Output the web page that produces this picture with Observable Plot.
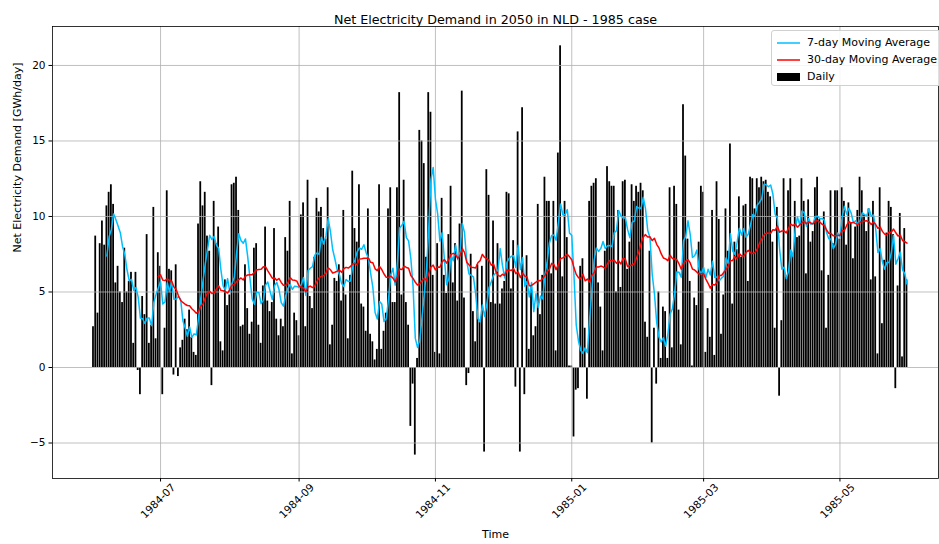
<!DOCTYPE html>
<html>
<head>
<meta charset="utf-8">
<script src="https://cdn.jsdelivr.net/npm/d3@7"></script>
<script src="https://cdn.jsdelivr.net/npm/@observablehq/plot@0.6"></script>
<style>
  body { margin: 0; background: white; font-family: "DejaVu Sans", sans-serif; }
  #wrap { position: relative; width: 939px; height: 544px; overflow: hidden; }
  #legend { position: absolute; left: 771px; top: 30px; width: 175px; height: 56px;
    box-sizing: border-box; border: 1px solid #d0d0d0; border-radius: 3px;
    background: rgba(255,255,255,0.85); font-size: 11px; color: black; padding-top: 3px; }
  .row { display: flex; align-items: center; height: 17px; }
  .row svg { margin-left: 5px; margin-right: 7px; }
</style>
</head>
<body>
<div id="wrap">
  <div id="chart"></div>
  <div id="legend"></div>
</div>
<script>
const titleText = "Net Electricity Demand in 2050 in NLD - 1985 case";
const yLabel = "Net Electricity Demand [GWh/day]";
const xLabel = "Time";
const startDate = "1984-06-01";
const xTickLabels = ["1984-07", "1984-09", "1984-11", "1985-01", "1985-03", "1985-05"];
const yTicks = [-5, 0, 5, 10, 15, 20];
const legendLabels = ["7-day Moving Average", "30-day Moving Average", "Daily"];
const seriesColors = ["deepskyblue", "red", "black"];

// Daily net demand, GWh/day, 1984-06-01 .. 1985-05-31
const dailyValues = [
  // Jun 1984
  2.7, 8.7, 3.6, 8.2, 9.7, 8.1, 10.7, 11.6, 12.1, 10.8, 5.6, 6.7, 5.0, 4.3, 7.9, 5.0, 5.7, 6.3, 1.6, 6.3,
  -0.2, -1.8, 4.7, 3.5, 8.8, 1.6, 2.8, 10.6, 1.9, 7.6,
  // Jul
  6.7, -1.8, 2.6, 11.7, 6.5, 6.4, -0.5, 6.8, -0.6, 1.3, 1.8, 3.2, 2.5, 3.8, 2.0, 1.0, 0.8, 9.5, 12.3, 10.7,
  11.6, 8.7, 7.7, -1.2, 11.0, 8.2, 9.3, 1.7, 1.1, 5.8, 4.1,
  // Aug
  4.8, 12.1, 12.2, 12.6, 10.4, 2.7, 2.8, 6.8, 3.9, 2.2, 3.0, 7.9, 8.2, 2.8, 1.6, 5.4, 9.3, 4.4, 3.7, 4.3,
  9.2, 3.2, 2.1, 3.2, 2.7, 8.6, 7.7, 11.0, 0.9, 3.6, 3.1,
  // Sep
  2.1, 10.1, 10.9, 2.7, 12.4, 4.7, 3.9, 7.3, 11.2, 10.3, 10.6, 9.2, 8.5, 11.9, 1.5, 2.8, 5.9, 5.7, 6.8, 4.4,
  10.4, 4.8, 1.9, 6.1, 13.0, 9.2, 8.3, 12.1, 4.2, 4.0,
  // Oct
  2.4, 10.5, 2.2, 1.7, 0.5, 1.2, 12.1, 1.2, 2.4, 3.6, 10.5, 11.9, 4.3, 4.3, 11.9, 18.2, 4.8, 12.4, 4.3, 2.8,
  -3.9, -1.1, -5.8, 0.6, 15.7, 15.0, 13.5, 7.3, 18.2, 16.9, 6.1,
  // Nov
  1.0, 8.2, 0.9, 11.2, 6.1, 4.9, 8.8, 12.0, 5.6, 8.2, 4.4, 9.5, 18.3, 4.6, -1.2, -0.4, 7.5, 3.7, 1.7, 6.8,
  3.0, 6.7, -5.6, 13.1, 11.4, 4.3, 9.7, 4.2, 8.2, 4.2,
  // Dec
  5.2, 5.7, 11.6, 11.5, 5.2, 8.4, -1.3, 15.6, -5.6, 17.2, -1.8, 7.4, 1.2, 5.4, 2.1, 2.7, 10.8, 3.5, 6.1, 12.6,
  11.0, 11.0, 6.2, 11.0, 1.1, 14.2, 21.3, 6.0, 11.0, 8.6, 0.1,
  // Jan 1985
  0.1, -4.6, -1.5, -1.4, 6.7, 7.2, 2.6, -2.1, 11.0, 12.0, 12.2, 12.5, 5.6, 4.0, 1.1, 7.7, 13.3, 12.3, 12.0, 12.0,
  5.0, 10.4, 5.3, 12.3, 12.4, 6.5, 8.3, 12.1, 11.0, 12.0, 11.6,
  // Feb
  12.2, 11.7, 3.0, 2.0, 7.7, -5.0, 2.6, -1.1, 5.0, 0.6, 4.0, 3.7, 0.6, 11.9, 1.3, 12.0, 10.8, 3.8, 1.5, 17.4,
  14.0, 8.5, 5.7, 0.1, 4.6, 4.1, 8.3, 12.0,
  // Mar
  11.6, 1.0, 3.9, 2.0, 10.4, 0.8, 12.3, 9.8, 2.2, 4.8, 10.5, 7.7, 14.8, 4.2, 8.3, 7.8, 11.3, 7.3, 10.7, 10.8,
  5.7, 12.6, 12.5, 10.5, 12.5, 11.9, 12.6, 12.3, 12.4, 11.6, 11.3,
  // Apr
  8.3, 2.6, 10.6, -1.9, 3.1, 12.5, 6.0, 11.7, 12.5, 7.5, 11.0, 8.6, 8.7, 12.5, 11.0, 6.2, 11.1, 8.3, 9.0, 11.9,
  12.6, 9.8, 6.4, 10.3, 2.6, 6.1, 11.7, 8.2, 11.7, 11.7,
  // May
  8.5, 11.9, 11.0, 8.1, 10.9, 9.6, 7.2, 9.3, 10.4, 12.6, 11.7, 10.1, 9.0, 10.5, 5.8, 11.0, 6.0, 0.9, 11.9, 2.9,
  7.1, 8.9, 11.0, 10.6, 8.8, -1.4, 5.4, 10.2, 0.7, 9.2, 5.8
];

const start = new Date(startDate + "T00:00:00Z");
const movingAverage = (vals, k) =>
  vals.map((v, i) => (i >= k - 1 ? d3.mean(vals.slice(i - k + 1, i + 1)) : NaN));
const ma7 = movingAverage(dailyValues, 7);
const ma30 = movingAverage(dailyValues, 30);

const data = dailyValues.map((v, i) => ({
  date: d3.utcDay.offset(start, i),
  value: v,
  ma7: ma7[i],
  ma30: ma30[i]
}));

const xTicks = xTickLabels.map(s => new Date(s + "-01T00:00:00Z"));
const halfBar = 0.4 * 864e5;
const fmt = d3.utcFormat("%Y-%m");
const grid = {stroke: "#b0b0b0", strokeOpacity: 1, strokeWidth: 0.8};

const chart = Plot.plot({
  width: 939,
  height: 544,
  marginLeft: 52,
  marginRight: 1,
  marginTop: 26,
  marginBottom: 66,
  style: {fontFamily: "DejaVu Sans", fontSize: "10.5px", background: "white", color: "black", overflow: "visible"},
  x: {type: "utc", domain: [new Date(+start - 18.34 * 864e5), new Date(+start + 378.1 * 864e5)]},
  y: {domain: [-7.35, 22.58]},
  marks: [
    Plot.rect(data, {
      x1: d => new Date(+d.date - halfBar),
      x2: d => new Date(+d.date + halfBar),
      y1: 0, y2: "value", fill: seriesColors[2]
    }),
    Plot.gridX(xTicks, grid),
    Plot.gridY(yTicks, grid),
    Plot.lineY(data, {x: "date", y: "ma7", stroke: seriesColors[0], strokeWidth: 1.5}),
    Plot.lineY(data, {x: "date", y: "ma30", stroke: seriesColors[1], strokeWidth: 1.5}),
    Plot.frame({stroke: "black", strokeWidth: 0.8}),
    Plot.axisY(yTicks, {tickSize: 3.5, tickPadding: 3.5, label: null, fontSize: 10.5}),
    Plot.axisX(xTicks, {tickSize: 3.5, tickFormat: () => "", label: null}),
    Plot.text(xTicks, {x: d => d, frameAnchor: "bottom", text: d => fmt(d), rotate: -45,
      textAnchor: "middle", dy: 25, fontSize: 10.5, fill: "black"}),
    Plot.text([titleText], {frameAnchor: "top", text: d => d, dy: -12, fontSize: 12.7, fill: "black"}),
    Plot.text([xLabel], {frameAnchor: "bottom", text: d => d, dy: 59, fontSize: 11, fill: "black"}),
    Plot.text([yLabel], {frameAnchor: "left", text: d => d, rotate: -90, dx: -35, fontSize: 11, fill: "black"})
  ]
});
document.getElementById("chart").append(chart);

const legend = document.getElementById("legend");
legendLabels.forEach((lab, i) => {
  const row = document.createElement("div");
  row.className = "row";
  const sw = i < 2
    ? `<svg width="23" height="10"><line x1="0" x2="23" y1="5" y2="5" stroke="${seriesColors[i]}" stroke-width="1.5"/></svg>`
    : `<svg width="23" height="10"><rect x="0" y="1" width="23" height="8" fill="${seriesColors[i]}"/></svg>`;
  row.innerHTML = sw + `<span>${lab}</span>`;
  legend.append(row);
});
</script>
</body>
</html>
